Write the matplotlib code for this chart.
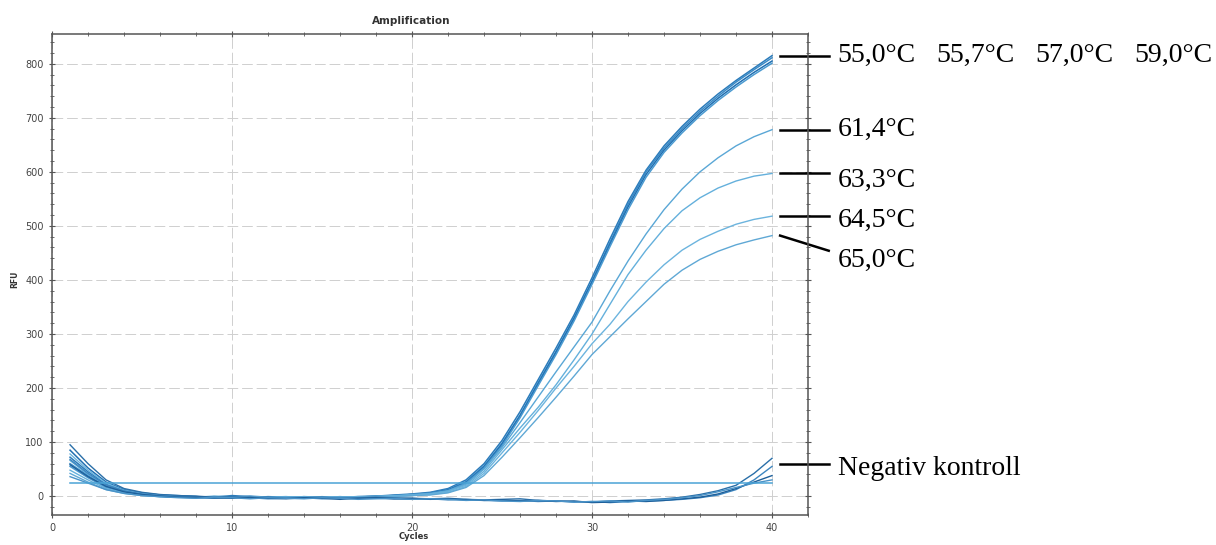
import matplotlib
matplotlib.use("Agg")
import matplotlib.pyplot as plt
from matplotlib.ticker import MultipleLocator

cycles = list(range(1, 41))

# RFU per cycle for each annealing temperature
rfu_55_0 = [72, 45, 22, 10, 5, 2, 0, -1, -2, 1, -1, -2, -3, -1, -2, -3, -2, 0, 2, 4, 7,
            14, 30, 60, 103, 156, 215, 274, 335, 404, 476, 545, 603, 648, 684, 716, 744, 769, 792, 815]
rfu_55_7 = [60, 38, 18, 8, 3, 0, -2, -1, -3, -2, 0, -2, -4, -2, -3, -1, -3, -1, 1, 3, 6,
            12, 27, 56, 98, 150, 210, 268, 330, 398, 470, 540, 600, 644, 680, 712, 740, 766, 789, 811]
rfu_57_0 = [85, 52, 26, 12, 6, 2, 1, -1, -2, -1, -3, -1, -2, -4, -2, -2, -1, 0, 1, 3, 5,
            11, 25, 54, 96, 148, 207, 266, 328, 396, 466, 535, 595, 640, 676, 708, 736, 761, 784, 805]
rfu_59_0 = [55, 34, 16, 7, 2, -1, -2, -3, -1, -2, -3, -2, -1, -3, -4, -2, -1, -2, 0, 2, 4,
            10, 24, 52, 93, 145, 204, 262, 324, 392, 462, 530, 590, 636, 672, 704, 732, 757, 780, 801]
rfu_61_4 = [66, 40, 20, 9, 4, 1, -1, -2, 0, -1, -2, -3, -2, -1, -3, -2, -1, 0, 1, 3, 5,
            10, 22, 50, 90, 136, 183, 230, 276, 322, 380, 435, 485, 530, 568, 600, 626, 648, 665, 678]
rfu_63_3 = [48, 30, 14, 6, 2, 0, -2, -1, -2, -3, -1, -2, -3, -2, -2, -3, -1, -1, 0, 2, 4,
            9, 20, 46, 86, 126, 164, 206, 252, 300, 355, 410, 455, 495, 528, 552, 570, 583, 592, 597]
rfu_64_5 = [78, 48, 24, 11, 5, 2, 0, -1, -3, -2, -1, -3, -2, -3, -1, -2, -3, -1, 0, 1, 3,
            7, 18, 42, 80, 118, 158, 200, 240, 282, 318, 360, 396, 428, 455, 475, 490, 503, 512, 518]
rfu_65_0 = [42, 26, 12, 5, 1, -1, -2, -3, -2, -1, -2, -3, -4, -2, -1, -3, -2, -2, -1, 1, 2,
            6, 16, 38, 72, 108, 145, 183, 222, 262, 295, 328, 360, 392, 418, 438, 453, 465, 474, 482]

# no-template controls
neg_1 = [95, 60, 30, 14, 7, 3, 1, 0, -2, -1, -3, -2, -4, -3, -2, -4, -3, -2, -3, -4, -5,
         -4, -6, -7, -6, -5, -8, -9, -10, -11, -9, -8, -7, -5, -2, 3, 10, 20, 42, 70]
neg_2 = [68, 42, 21, 10, 4, 1, -1, -3, -4, -2, -3, -5, -4, -3, -5, -4, -3, -4, -5, -6, -5,
         -7, -6, -8, -9, -8, -10, -9, -11, -10, -12, -10, -9, -8, -6, -3, 2, 12, 30, 55]
neg_3 = [58, 36, 18, 8, 3, 0, -2, -2, -3, -4, -2, -4, -5, -3, -4, -6, -4, -3, -5, -4, -6,
         -5, -7, -8, -7, -9, -8, -10, -9, -12, -11, -9, -10, -8, -5, -2, 4, 14, 26, 38]
neg_4 = [36, 24, 12, 5, 1, -1, -3, -4, -2, -3, -5, -3, -4, -5, -3, -4, -6, -5, -4, -6, -5,
         -6, -8, -7, -9, -10, -8, -9, -11, -10, -9, -11, -8, -6, -3, 1, 8, 16, 24, 30]

threshold = 25

top_labels = ["55,0°C", "55,7°C", "57,0°C", "59,0°C"]
low_labels = ["61,4°C", "63,3°C", "64,5°C", "65,0°C"]

high = [rfu_55_0, rfu_55_7, rfu_57_0, rfu_59_0]
low = [rfu_61_4, rfu_63_3, rfu_64_5, rfu_65_0]
negs = [neg_1, neg_2, neg_3, neg_4]

fig = plt.figure(figsize=(12.16, 5.45), dpi=100)
ax = fig.add_axes([0.0428, 0.055, 0.6217, 0.8826])

for y, c in zip(high, ["#2b7bba", "#3a8ac6", "#1f6fb2", "#4b9ad0"]):
    ax.plot(cycles, y, color=c, lw=1.1)
for y, c in zip(low, ["#5aa7d6", "#64b0dc", "#6cb4de", "#5fa8d5"]):
    ax.plot(cycles, y, color=c, lw=1.0)
for y, c in zip(negs, ["#2a6fa8", "#3d86c0", "#1d5f9a", "#4a93c8"]):
    ax.plot(cycles, y, color=c, lw=1.0)
ax.plot([1, 40], [threshold, threshold], color="#4aa3d6", lw=1.1)

ax.set_xlim(0, 42)
ax.set_ylim(-35, 855)
ax.xaxis.set_major_locator(MultipleLocator(10))
ax.xaxis.set_minor_locator(MultipleLocator(2))
ax.yaxis.set_major_locator(MultipleLocator(100))
ax.yaxis.set_minor_locator(MultipleLocator(20))
ax.tick_params(which="both", direction="inout", top=True, right=True,
               color="#555555", labelsize=7, labelcolor="#444444")
ax.tick_params(which="major", length=5)
ax.tick_params(which="minor", length=3)
ax.grid(True, which="major", color="#cfcfcf", linestyle=(0, (11, 4)), lw=0.7)
ax.set_axisbelow(True)
for s in ax.spines.values():
    s.set_color("#555555")
    s.set_linewidth(1.1)

ax.set_title("Amplification", fontsize=7.5, fontweight="bold", color="#333333",
             x=0.475, y=1.02, pad=0)
ax.set_xlabel("Cycles", fontsize=6, fontweight="bold", color="#333333")
ax.xaxis.set_label_coords(0.478, -0.035)
ax.set_ylabel("RFU", fontsize=5.5, fontweight="bold", color="#333333")
ax.yaxis.set_label_coords(-0.043, 0.49)

# labels to the right of the curve ends
serif = "Liberation Serif"
x0, x1, xt = 40.45, 43.15, 43.65
ax.plot([x0, x1], [rfu_55_0[-1], rfu_55_0[-1]], color="black", lw=1.8, clip_on=False)
for lab, xx in zip(top_labels, [xt, 49.1, 54.6, 60.1]):
    ax.text(xx, rfu_55_0[-1], lab, family=serif, fontsize=20, va="center", clip_on=False)

label_y = [678, 585, 511, 437]
for i, (y, lab) in enumerate(zip(low, low_labels)):
    if i < 3:
        ax.plot([x0, x1], [y[-1], y[-1]], color="black", lw=1.8, clip_on=False)
    else:
        ax.plot([x0, x1], [y[-1], y[-1] - 28], color="black", lw=1.8, clip_on=False)
    ax.text(xt, label_y[i], lab, family=serif, fontsize=20, va="center", clip_on=False)

ax.plot([x0, x1], [59, 59], color="black", lw=1.8, clip_on=False)
ax.text(xt, 52, "Negativ kontroll", family=serif, fontsize=20, va="center", clip_on=False)

plt.savefig("out.png", dpi=100)
